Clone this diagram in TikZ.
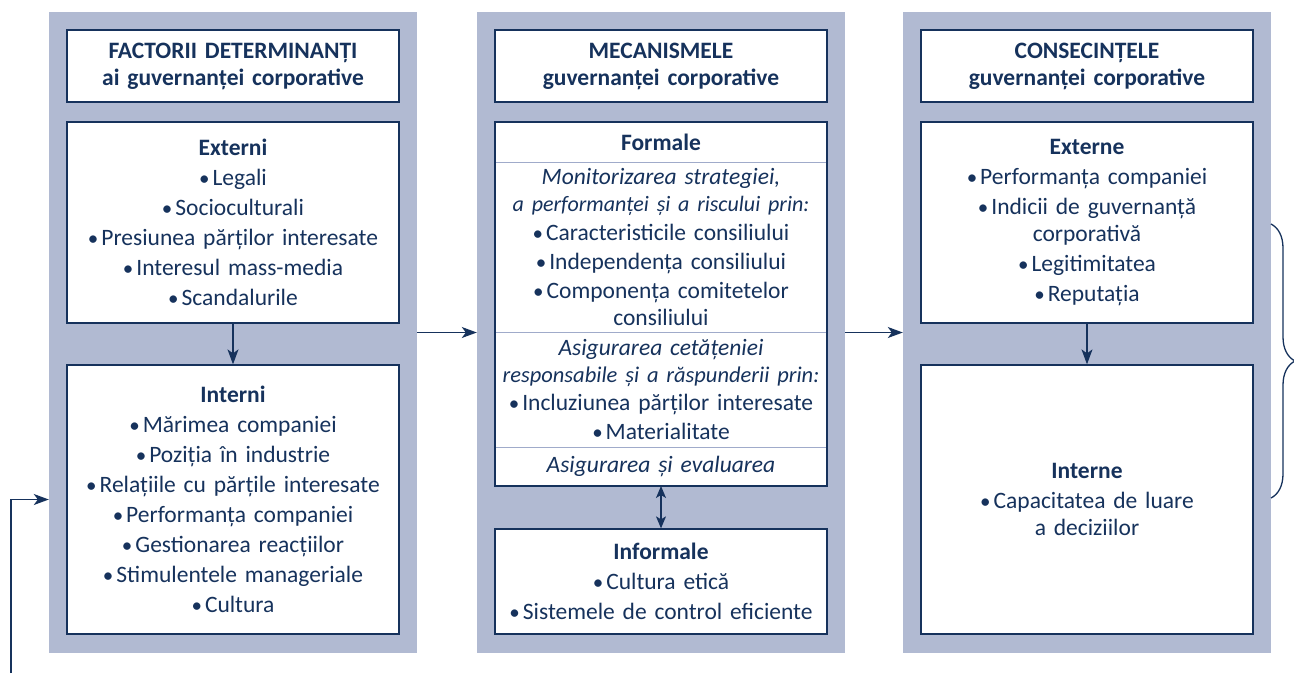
\documentclass[tikz,border=0pt]{standalone}
\usepackage{fontspec}
\setmainfont{Carlito}
\usetikzlibrary{arrows.meta,positioning,decorations.pathreplacing}
\definecolor{navy}{RGB}{22,50,92}
\definecolor{panelgray}{RGB}{177,186,210}
\definecolor{sepgray}{RGB}{160,171,202}
\newcommand{\bul}{{\fontsize{21}{21}\selectfont•}\hspace{3pt}}

\begin{document}
\begin{tikzpicture}[x=1pt, y=-1pt,
        font=\fontsize{23.5}{27}\selectfont, text=navy,
        panel/.style={fill=panelgray, minimum width=368pt, minimum height=641pt, inner sep=0pt},
        box/.style={draw=navy, line width=1.3pt, fill=white, minimum width=332pt, text width=326pt, align=center, inner sep=0pt},
        part/.style={draw=sepgray, line width=0.8pt, fill=white, minimum width=332pt, text width=326pt, align=center, inner sep=0pt, outer sep=0pt},
        arr/.style={draw=navy, line width=1.3pt, -{Stealth[length=15pt,width=11pt,inset=4pt]}},
        dblarr/.style={draw=navy, line width=1.3pt, {Stealth[length=12pt,width=10pt,inset=3pt]}-{Stealth[length=12pt,width=10pt,inset=3pt]}}]
        \useasboundingbox (0,0) rectangle (1294,673);

        \node[panel] (left) at (233,332.5) {};
        \node[panel] (mid) at (661,332.5) {};
        \node[panel] (right) at (1087,332.5) {};

        \node[box, minimum height=72pt] (leftttl) at (233,66) {\textbf{FACTORII DETERMINANȚI}\\\textbf{ai guvernanței corporative}};
        \node[box, minimum height=72pt] (midttl) at (661,66) {\textbf{MECANISMELE}\\\textbf{guvernanței corporative}};
        \node[box, minimum height=72pt] (rightttl) at (1087,66) {\textbf{CONSECINȚELE}\\\textbf{guvernanței corporative}};

        \node[box, minimum height=201pt] (ext) at (233,222.5) {\textbf{Externi}\\[3pt]\bul Legali\\[3pt]\bul Socioculturali\\[3pt]\bul Presiunea părților interesate\\[3pt]\bul Interesul mass-media\\[3pt]\bul Scandalurile};
        \node[box, minimum height=269pt] (int) at (233,499.5) {\textbf{Interni}\\[3pt]\bul Mărimea companiei\\[3pt]\bul Poziția în industrie\\[3pt]\bul Relațiile cu părțile interesate\\[3pt]\bul Performanța companiei\\[3pt]\bul Gestionarea reacțiilor\\[3pt]\bul Stimulentele manageriale\\[3pt]\bul Cultura};

        \node[part, minimum height=40pt] (formal) at (661,142) {\textbf{Formale}};
        \node[part, minimum height=170pt, below=0pt of formal] (monitor) {\textit{Monitorizarea strategiei,}\\{\fontsize{22}{27}\selectfont\textit{a performanței și a riscului prin:}}\\[2pt]\bul Caracteristicile consiliului\\[2pt]\bul Independența consiliului\\[2pt]\bul Componența comitetelor\\consiliului};
        \node[part, minimum height=115pt, below=0pt of monitor] (civic) {\textit{Asigurarea cetățeniei}\\{\fontsize{22.5}{27}\selectfont\textit{responsabile și a răspunderii prin:}}\\[1pt]\bul Incluziunea părților interesate\\[2pt]\bul Materialitate};
        \node[part, minimum height=39pt, below=0pt of civic] (assur) {\textit{Asigurarea și evaluarea}};
        \draw[navy, line width=1.3pt] (formal.north west) rectangle (assur.south east);
        \node[box, minimum height=105pt] (informal) at (661,581.5) {\textbf{Informale}\\[3pt]\bul Cultura etică\\[3pt]\bul Sistemele de control eficiente};

        \node[box, minimum height=201pt] (rext) at (1087,222.5) {\textbf{Externe}\\[3pt]\bul Performanța companiei\\[3pt]\bul Indicii de guvernanță\\corporativă\\[3pt]\bul Legitimitatea\\[3pt]\bul Reputația};
        \node[box, minimum height=269pt] (rint) at (1087,499.5) {\textbf{Interne}\\[3pt]\bul Capacitatea de luare\\a deciziilor};

        \draw[arr] (left) -- (mid);
        \draw[arr] (mid) -- (right);
        \draw[arr] (ext) -- (int);
        \draw[arr] (rext) -- (rint);
        \draw[dblarr] (assur) -- (informal);

        \coordinate (fbstart) at (11,673);
        \draw[arr] (fbstart) |- (left.west |- int.west);

        \coordinate (bracetop) at (1271,224);
        \coordinate (bracebot) at (1271,498);
        \draw[navy, line width=1.3pt, decorate, decoration={brace, amplitude=24pt}] (bracetop) -- (bracebot);
\end{tikzpicture}
\end{document}
